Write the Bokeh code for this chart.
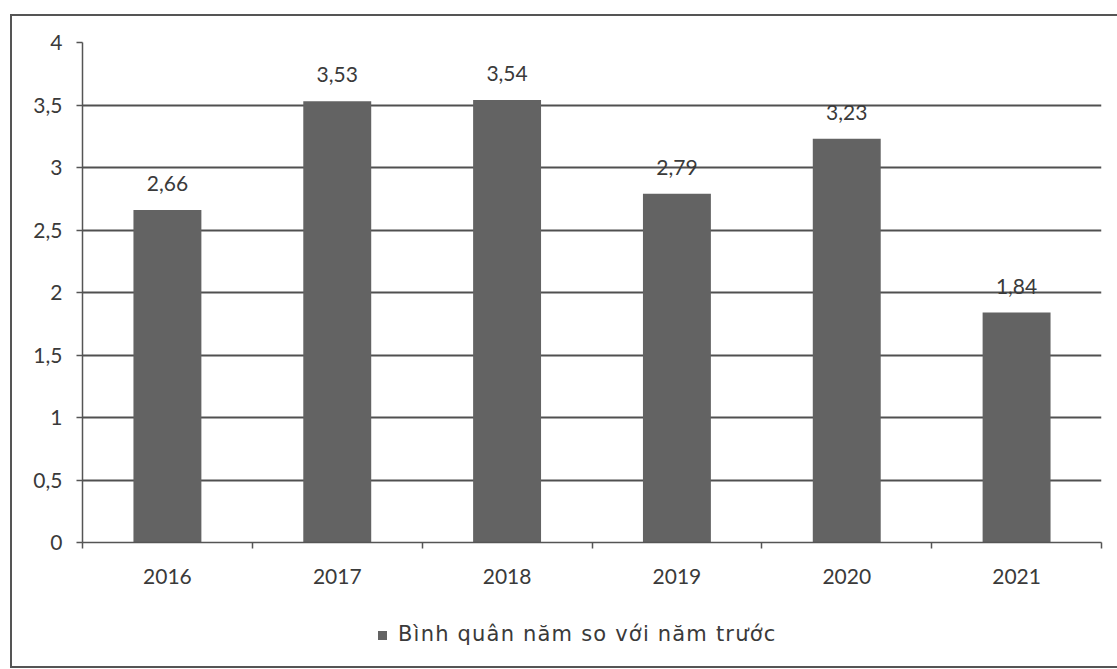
from bokeh.plotting import figure
from bokeh.models import ColumnDataSource, FixedTicker, LabelSet, Range1d, Div
from bokeh.layouts import column
from bokeh.core.properties import value
from bokeh.embed import file_html
from bokeh.resources import INLINE

years = ["2016", "2017", "2018", "2019", "2020", "2021"]
values = [2.66, 3.53, 3.54, 2.79, 3.23, 1.84]
value_labels = ["2,66", "3,53", "3,54", "2,79", "3,23", "1,84"]
y_ticks = [0, 0.5, 1, 1.5, 2, 2.5, 3, 3.5, 4]
y_tick_labels = ["0", "0,5", "1", "1,5", "2", "2,5", "3", "3,5", "4"]
series_name = "Bình quân năm so với năm trước"

bar_color = "#636363"
text_color = "#3a3a3a"
axis_color = "#555555"

xpos = [i + 0.5 for i in range(len(years))]
src = ColumnDataSource(dict(x=xpos, top=values, lab=value_labels))

p = figure(width=1102, height=584, output_backend="svg", toolbar_location=None,
           x_range=Range1d(0, len(years)), y_range=Range1d(0, 4),
           min_border_left=70, min_border_right=13, min_border_top=26, min_border_bottom=58)
p.outline_line_color = None
p.background_fill_color = "white"
p.border_fill_color = "white"

p.vbar(x="x", top="top", width=0.4, source=src, fill_color=bar_color, line_color=None)

labels = LabelSet(x="x", y="top", text="lab", source=src, text_align="center", text_baseline="bottom",
                  y_offset=19, text_font=value("Lato"), text_font_size="21px", text_color=text_color)
p.add_layout(labels)

# y axis
p.yaxis.ticker = FixedTicker(ticks=y_ticks)
p.yaxis.major_label_overrides = {t: l for t, l in zip(y_ticks, y_tick_labels)}
p.yaxis.major_tick_out = 6
p.yaxis.major_tick_in = 0
p.yaxis.minor_tick_line_color = None
p.yaxis.axis_line_color = axis_color
p.yaxis.axis_line_width = 1.5
p.yaxis.major_tick_line_color = axis_color
p.yaxis.major_tick_line_width = 1.5
p.yaxis.major_label_text_font = "Lato"
p.yaxis.major_label_text_font_size = "21px"
p.yaxis.major_label_text_color = text_color
p.yaxis.major_label_standoff = 14

# x axis
p.xaxis.ticker = FixedTicker(ticks=xpos, minor_ticks=list(range(len(years) + 1)))
p.xaxis.major_label_overrides = {x: y for x, y in zip(xpos, years)}
p.xaxis.major_tick_line_color = None
p.xaxis.major_tick_out = 0
p.xaxis.major_tick_in = 0
p.xaxis.minor_tick_out = 6
p.xaxis.minor_tick_in = 0
p.xaxis.minor_tick_line_color = axis_color
p.xaxis.minor_tick_line_width = 1.5
p.xaxis.axis_line_color = axis_color
p.xaxis.axis_line_width = 1.5
p.xaxis.major_label_text_font = "Lato"
p.xaxis.major_label_text_font_size = "21px"
p.xaxis.major_label_text_color = text_color
p.xaxis.major_label_standoff = 20

p.xgrid.grid_line_color = None
p.ygrid.grid_line_color = "#505050"
p.ygrid.grid_line_width = 1.8

legend_html = ('<span style="display:inline-block;width:9px;height:9px;background:%s;'
               'margin-right:11px;vertical-align:middle"></span>%s' % (bar_color, series_name))
legend_div = Div(text=legend_html, width=1102, height=56,
                 styles={"padding-left": "361px", "padding-top": "14px",
                         "font-family": "DejaVu Sans", "font-size": "21px", "letter-spacing": "1.2px",
                         "color": text_color})

layout = column(p, legend_div, spacing=0)
layout.styles = {"border": "2px solid #555555", "background": "white",
                 "margin-left": "10px", "margin-top": "14px"}

open("out.html", "w").write(file_html(layout, INLINE))
